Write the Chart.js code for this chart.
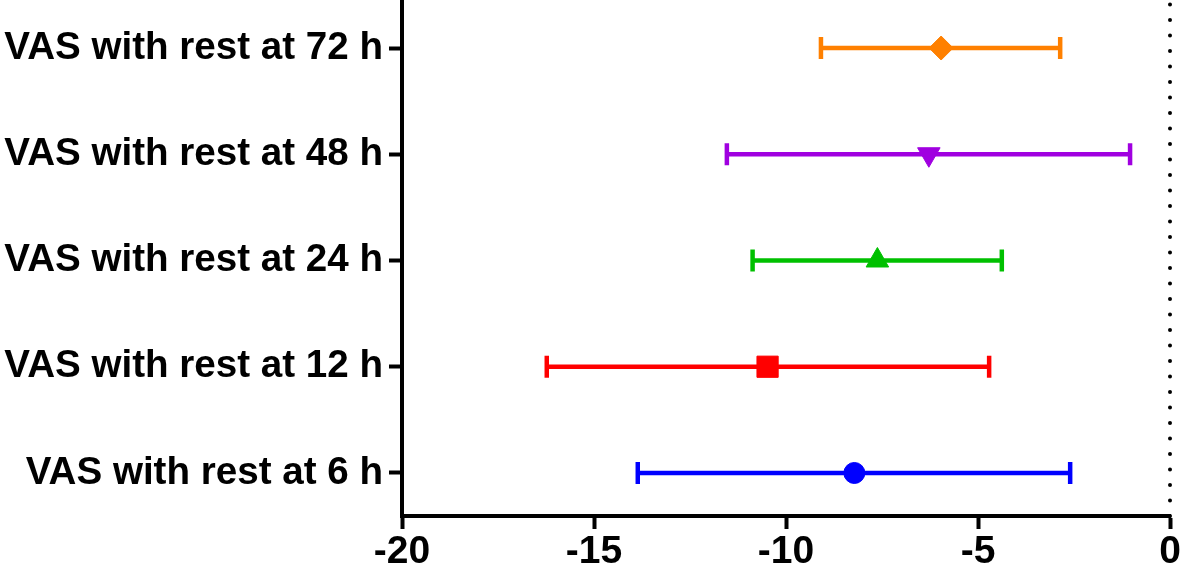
<!DOCTYPE html>
<html>
<head>
<meta charset="utf-8">
<script src="https://cdn.jsdelivr.net/npm/chart.js@4/dist/chart.umd.min.js"></script>
<style>
  html, body { margin: 0; padding: 0; background: #fff; }
  #wrap { width: 1181px; height: 575px; position: relative; }
</style>
</head>
<body>
<div id="wrap"><canvas id="c" width="1181" height="575"></canvas></div>
<script>
// ---- Data (bottom to top) ----
const categories = ['VAS with rest at 6 h', 'VAS with rest at 12 h', 'VAS with rest at 24 h', 'VAS with rest at 48 h', 'VAS with rest at 72 h'];
const means = [-8.22, -10.48, -7.62, -6.28, -5.96];
const lowerCI = [-13.86, -16.23, -10.87, -11.54, -9.09];
const upperCI = [-2.60, -4.71, -4.38, -1.04, -2.86];
const xTicks = [-20, -15, -10, -5, 0];
const colors = ['#0000FF', '#FF0000', '#00C000', '#A000E0', '#FF8000'];
const markerStyles = ['circle', 'rect', 'triangle', 'triangle', 'rectRot'];
const markerRotation = [0, 0, 0, 180, 0];
const markerRadius = [10.5, 15, 13, 13, 12];

const yMin = 0.595, yMax = 5.452;
const FONT = "'Liberation Sans', Arial, sans-serif";

const datasets = [];
// markers (drawn on top)
categories.forEach((c, i) => {
  datasets.push({
    type: 'scatter',
    label: c + ' mean',
    data: [{ x: means[i], y: i + 1 }],
    pointStyle: markerStyles[i],
    rotation: markerRotation[i],
    pointRadius: markerRadius[i],
    backgroundColor: colors[i],
    borderColor: colors[i],
    borderWidth: 1,
    clip: false,
    order: 0
  });
});
// whiskers with caps
categories.forEach((c, i) => {
  datasets.push({
    type: 'line',
    label: c + ' CI',
    data: [{ x: lowerCI[i], y: i + 1 }, { x: upperCI[i], y: i + 1 }],
    borderColor: colors[i],
    borderWidth: 4.5,
    pointStyle: 'line',
    rotation: 90,
    pointRadius: 11,
    pointBorderWidth: 4.5,
    pointBorderColor: colors[i],
    pointBackgroundColor: colors[i],
    tension: 0,
    clip: false,
    order: 1
  });
});
// dotted zero line
datasets.push({
  type: 'line',
  label: 'zero',
  data: [{ x: 0, y: yMin }, { x: 0, y: yMax }],
  borderColor: '#000',
  borderWidth: 4,
  borderDash: [0, 15.5],
  borderCapStyle: 'round',
  pointRadius: 0,
  clip: false,
  order: 2
});

new Chart(document.getElementById('c'), {
  type: 'scatter',
  data: { datasets },
  options: {
    responsive: false,
    animation: false,
    events: [],
    layout: { autoPadding: false, padding: { top: 0, right: 11, bottom: 0, left: 0 } },
    plugins: { legend: { display: false }, tooltip: { enabled: false } },
    scales: {
      x: {
        type: 'linear',
        min: -20, max: 0,
        afterBuildTicks: (s) => { s.ticks = xTicks.map(v => ({ value: v })); },
        afterFit: (s) => { s.height = 59; s.paddingLeft = 0; s.paddingRight = 0; },
        border: { display: true, color: '#000', width: 4 },
        grid: { display: true, drawOnChartArea: false, drawTicks: true, tickLength: 13, tickWidth: 4, tickColor: '#000' },
        ticks: { color: '#000', padding: 0, maxRotation: 0, autoSkip: false, font: { family: FONT, size: 39, weight: 'bold' } }
      },
      y: {
        type: 'linear',
        min: yMin, max: yMax,
        afterBuildTicks: (s) => { s.ticks = categories.map((c, i) => ({ value: i + 1 })); },
        afterFit: (s) => { s.width = 402; s.paddingTop = 0; s.paddingBottom = 0; },
        border: { display: true, color: '#000', width: 4 },
        grid: { display: true, drawOnChartArea: false, drawTicks: true, tickLength: 13, tickWidth: 4, tickColor: '#000' },
        ticks: {
          color: '#000', padding: 6, autoSkip: false,
          font: { family: FONT, size: 38.6, weight: 'bold' },
          callback: (v) => categories[Math.round(v) - 1]
        }
      }
    }
  }
});
</script>
</body>
</html>
